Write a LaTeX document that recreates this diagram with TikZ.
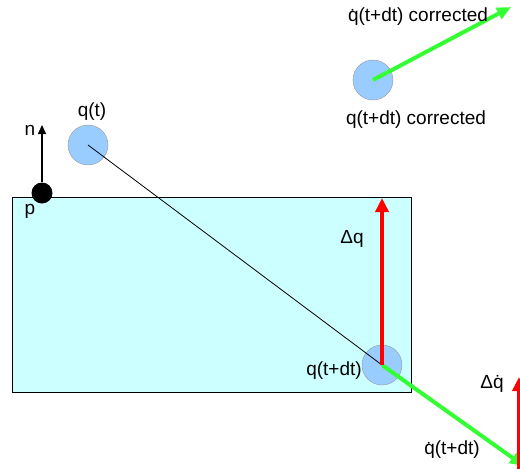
\documentclass[tikz,border=0pt]{standalone}
\usepackage{fontspec}
\setmainfont{Liberation Sans}
\usepackage{xcolor}
\usetikzlibrary{positioning, arrows.meta}

\definecolor{slabcyan}{RGB}{204,255,255}
\definecolor{ballblue}{RGB}{153,204,255}
\definecolor{velgreen}{RGB}{51,255,51}

\begin{document}
\begin{tikzpicture}[x=1pt, y=-1pt,
    ball/.style={circle, draw=gray!80, fill=ballblue, minimum size=40pt, inner sep=0pt},
    contact/.style={circle, fill=black, minimum size=21pt, inner sep=0pt},
    lbl/.style={font=\fontsize{19}{22}\selectfont, inner sep=0pt},
    normalarrow/.style={-{Triangle[length=9pt, width=8pt]}, line width=1.5pt},
    dqarrow/.style={-{Triangle[length=14pt, width=13pt]}, line width=4pt, red},
    velarrow/.style={-{Triangle[length=14pt, width=12pt]}, line width=4pt, velgreen}
]
\clip (0,0) rectangle (520,469);

% body
\draw[fill=slabcyan, line width=1pt] (12,197) rectangle (411,392);

% balls
\node[ball] (qt) at (88,145) {};
\node[ball] (qdt) at (382,365) {};
\node[ball] (qc) at (373,80) {};

% contact point and normal
\coordinate (ntip) at (42,125);
\node[contact] (p) at (42,193) {};
\draw[normalarrow] (p) -- (ntip);

% straight path
\draw[line width=0.8pt] (qt.center) -- (qdt.center);

% vectors
\coordinate (dqtip) at (382,198);
\coordinate (vtip) at (524,466);
\coordinate (vctip) at (511,7);
\coordinate (ddtop) at (519,377);
\coordinate (ddbot) at (519,480);

\draw[velarrow] (qdt.center) -- (vtip);
\draw[dqarrow] (qdt.center) -- (dqtip);
\draw[velarrow] (qc.center) -- (vctip);
\draw[dqarrow] (ddbot) -- (ddtop);

% labels
\node[lbl] (nlbl) at (30,130) {n};
\node[lbl] (plbl) at (30,211) {p};
\node[lbl] (qtlbl) at (92,112) {q(t)};
\node[lbl] (dqlbl) at (352,239) {Δq};
\node[lbl] (qdtlbl) at (334,371) {q(t+dt)};
\node[lbl] (ddlbl) at (492,384) {Δ\.q};
\node[lbl] (vlbl) at (452,450) {\.q(t+dt)};
\node[lbl] (vclbl) at (418,17) {\.q(t+dt) corrected};
\node[lbl] (qclbl) at (416,120) {q(t+dt) corrected};

\end{tikzpicture}
\end{document}
